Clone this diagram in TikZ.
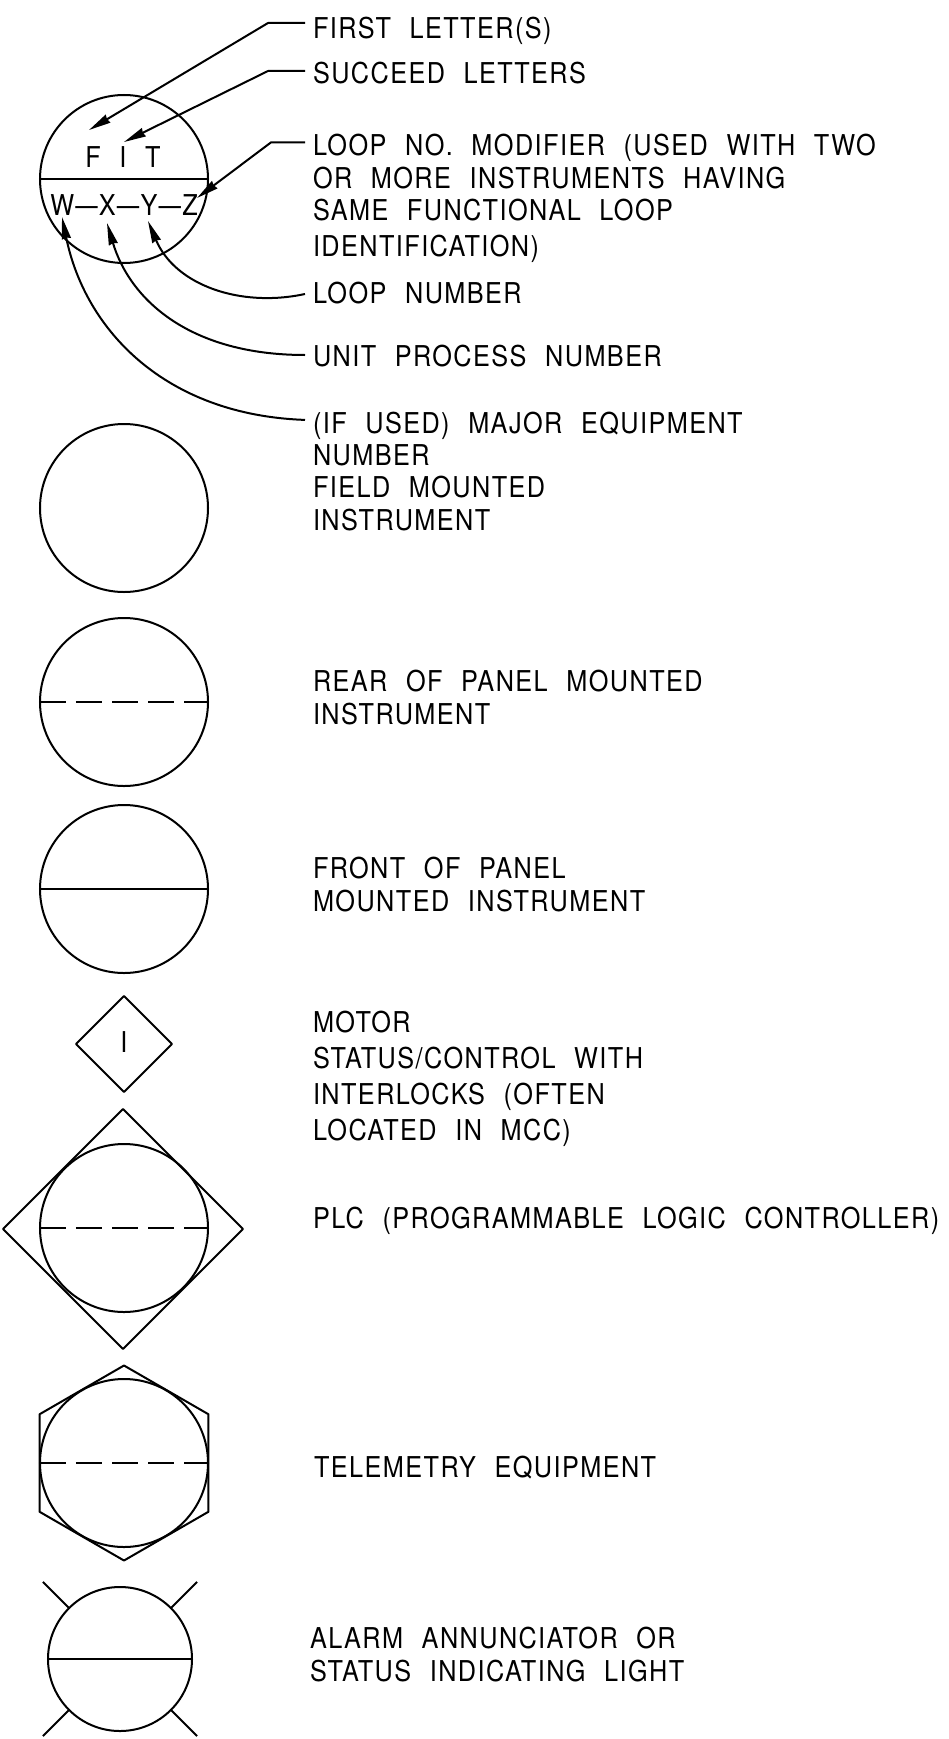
\documentclass[tikz,border=0pt]{standalone}
\usepackage{graphicx}
\usepackage{fontspec}
\setmainfont{TeX Gyre Heros}[FakeStretch=0.88,LetterSpace=5,WordSpace=2.2]
\usetikzlibrary{arrows.meta,shapes.geometric}
\begin{document}
\begin{tikzpicture}[x=0.03cm, y=-0.03cm, line join=round, line cap=butt, line width=0.06cm, >={Stealth[length=0.66cm,width=0.27cm,inset=0.03cm]}]
	\def\tagdash{\hspace{1pt}\scalebox{1.6}[1]{--}\hspace{1pt}}
	\tikzset{every node/.style={inner sep=0pt, outer sep=0pt},
		lbl/.style={anchor=base west, align=left, font=\fontsize{24.5}{27.5}\selectfont},
		tag/.style={anchor=base, font=\fontsize{24.5}{27.5}\selectfont},
		inst/.style={draw, circle, minimum size=5.04cm},
		dashline/.style={dash pattern=on 0.77cm off 0.31cm}}
	\useasboundingbox (0,0) rectangle (948,1739);
	\node[inst] (key) at (124,179) {};
	\node[inst] (field) at (124,508) {};
	\node[inst] (rear) at (124,702) {};
	\node[inst] (front) at (124,889) {};
	\node[inst] (plc) at (124,1228) {};
	\node[inst] (tele) at (124,1463) {};
	\node[inst, minimum size=4.32cm] (lamp) at (120,1659) {};
	\node[draw, diamond, aspect=1, minimum size=2.88cm] (motor) at (124,1044) {};
	\node[draw, diamond, aspect=1, minimum size=7.2cm] (plcbox) at (123,1229) {};
	\node[draw, regular polygon, regular polygon sides=6, shape border rotate=30, minimum size=5.85cm] (telebox) at (124,1463) {};
	\draw (key.west)--(key.east);
	\draw (front.west)--(front.east);
	\draw (lamp.west)--(lamp.east);
	\draw[dashline] (rear.west)--(rear.east);
	\draw[dashline] (plc.west)--(plc.east);
	\draw[dashline] (tele.west)--(tele.east);
	\foreach \a in {45,135,-45,-135}
	{\draw (lamp.\a)--++(-\a:37);}
	\node[tag] (letters) at (123,167) {F I T};
	\node[tag] (number) at (124,215) {W\tagdash X\tagdash Y\tagdash Z};
	\node[tag] (status) at (124,1052) {I};
	\node[lbl] (first) at (313,39) {FIRST LETTER(S)};
	\node[lbl] (succeed) at (313,83) {SUCCEED LETTERS};
	\node[lbl] (modifier) at (313,256) {LOOP NO. MODIFIER (USED WITH TWO\\OR MORE INSTRUMENTS HAVING\\SAME FUNCTIONAL LOOP\\[3pt]IDENTIFICATION)};
	\node[lbl] (loop) at (313,303) {LOOP NUMBER};
	\node[lbl] (unit) at (313,366) {UNIT PROCESS NUMBER};
	\node[lbl] (major) at (313,530) {(IF USED) MAJOR EQUIPMENT\\NUMBER\\FIELD MOUNTED\\INSTRUMENT};
	\node[lbl] (reartxt) at (313,724) {REAR OF PANEL MOUNTED\\INSTRUMENT};
	\node[lbl] (fronttxt) at (313,911) {FRONT OF PANEL\\MOUNTED INSTRUMENT};
	\node[lbl] (motortxt) at (313,1140) {MOTOR\\[3pt]STATUS/CONTROL WITH\\[3pt]INTERLOCKS (OFTEN\\[3pt]LOCATED IN MCC)};
	\node[lbl] (plctxt) at (313,1228) {PLC (PROGRAMMABLE LOGIC CONTROLLER)};
	\node[lbl] (teletxt) at (314,1477) {TELEMETRY EQUIPMENT};
	\node[lbl] (lamptxt) at (310,1681) {ALARM ANNUNCIATOR OR\\STATUS INDICATING LIGHT};
	\coordinate (tipF) at (89,130);
	\coordinate (tipS) at (124,142);
	\coordinate (tipM) at (197,198);
	\coordinate (tipL) at (148,221);
	\coordinate (tipU) at (107,223);
	\coordinate (tipW) at (62,217);
	\draw[->] ([shift={(-8,-16)}]first.base west)--++(-37,0)--(tipF);
	\draw[->] ([shift={(-8,-12)}]succeed.base west)--++(-37,0)--(tipS);
	\draw[->] ([shift={(-8,8)}]modifier.north west)--++(-34,0)--(tipM);
	\draw[->] ([shift={(-8,-9)}]loop.base west) .. controls (240,308) and (175,285) .. (tipL);
	\draw[->] ([shift={(-8,-11)}]unit.base west) .. controls (190,355) and (130,300) .. (tipU);
	\draw[->] ([shift={(-8,8)}]major.north west) .. controls (165,415) and (85,330) .. (tipW);
\end{tikzpicture}
\end{document}
